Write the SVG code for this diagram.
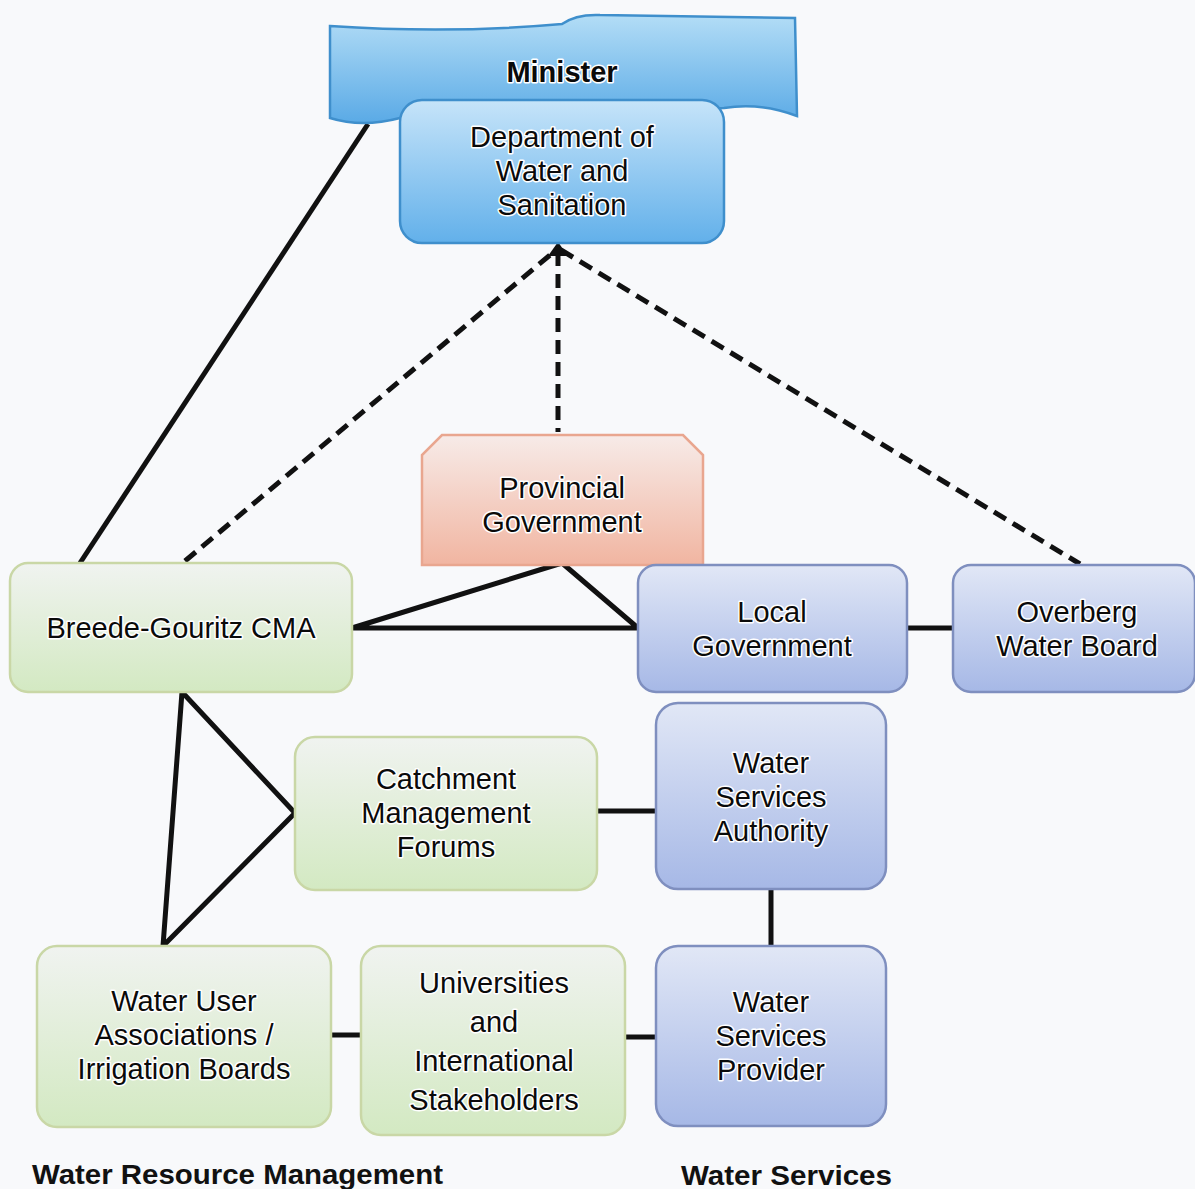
<svg xmlns="http://www.w3.org/2000/svg" width="1195" height="1189" viewBox="0 0 1195 1189">
<defs>
<linearGradient id="gBanner" x1="0" y1="0" x2="0" y2="1"><stop offset="0" stop-color="#b3ddf6"/><stop offset="1" stop-color="#5aaae6"/></linearGradient>
<linearGradient id="gDws" x1="0" y1="0" x2="0" y2="1"><stop offset="0" stop-color="#c6e4f9"/><stop offset="1" stop-color="#62b0ea"/></linearGradient>
<linearGradient id="gProv" x1="0" y1="0" x2="0" y2="1"><stop offset="0" stop-color="#f7ebe8"/><stop offset="1" stop-color="#f1b5a1"/></linearGradient>
<linearGradient id="gGreen" x1="0" y1="0" x2="0" y2="1"><stop offset="0" stop-color="#f0f3f0"/><stop offset="1" stop-color="#d3e9c2"/></linearGradient>
<linearGradient id="gBlue" x1="0" y1="0" x2="0" y2="1"><stop offset="0" stop-color="#e1e7f6"/><stop offset="1" stop-color="#a6b8e6"/></linearGradient>
</defs>
<style>
.t{font-family:"Liberation Sans",Arial,sans-serif;font-size:29px;fill:#0a0a0a;text-anchor:middle;stroke:#fff;stroke-width:3px;paint-order:stroke;stroke-linejoin:round}
.b{font-weight:bold}
.lbl{font-family:"Liberation Sans",Arial,sans-serif;font-size:28px;font-weight:bold;fill:#111}
.green{fill:url(#gGreen);stroke:#c9d7a6;stroke-width:2.5}
.blue{fill:url(#gBlue);stroke:#7f8fbf;stroke-width:2.5}
.ln{stroke:#111;stroke-width:5;fill:none;stroke-linejoin:round}
.dash{stroke:#111;stroke-width:5;fill:none;stroke-dasharray:14 8}
</style>
<rect width="1195" height="1189" fill="#f8f9fb"/>

<g id="connectors">
<line class="ln" x1="80" y1="563" x2="368" y2="124"/>
<line class="dash" x1="185" y1="561" x2="556" y2="250"/>
<line class="dash" x1="558" y1="252" x2="558" y2="432"/>
<line class="dash" x1="561" y1="250" x2="1080" y2="564"/>
<polygon points="558,242 548,256 568,256" fill="#111"/>
<polyline class="ln" points="352,628 638,628 562,563 352,628"/>
<line class="ln" x1="907" y1="628" x2="953" y2="628"/>
<polyline class="ln" points="182,692 295,813 163,946 182,692"/>
<line class="ln" x1="597" y1="811" x2="656" y2="811"/>
<line class="ln" x1="771" y1="889" x2="771" y2="946"/>
<line class="ln" x1="331" y1="1035" x2="361" y2="1035"/>
<line class="ln" x1="625" y1="1037" x2="656" y2="1037"/>
</g>

<g id="minister">
<path d="M330,26 Q450,34 562,24 Q576,14 600,15 L795,18 L797,116 Q760,102 724,108 L400,118 Q362,128 330,118 Z" fill="url(#gBanner)" stroke="#3f8fcc" stroke-width="2.5"/>
<text class="t b" x="562" y="82">Minister</text>
</g>

<g id="dws">
<rect x="400" y="100" width="324" height="143" rx="22" fill="url(#gDws)" stroke="#3f8fcc" stroke-width="2.5"/>
<text class="t" x="562" y="147">Department of</text>
<text class="t" x="562" y="181">Water and</text>
<text class="t" x="562" y="215">Sanitation</text>
</g>

<g id="provincial">
<path d="M442,435 L683,435 L703,455 L703,565 L422,565 L422,455 Z" fill="url(#gProv)" stroke="#e9a68f" stroke-width="2.5"/>
<text class="t" x="562" y="498">Provincial</text>
<text class="t" x="562" y="532">Government</text>
</g>

<g id="cma">
<rect class="green" x="10" y="563" width="342" height="129" rx="18"/>
<text class="t" x="181" y="638">Breede-Gouritz CMA</text>
</g>

<g id="local">
<rect class="blue" x="638" y="565" width="269" height="127" rx="18"/>
<text class="t" x="772" y="622">Local</text>
<text class="t" x="772" y="656">Government</text>
</g>

<g id="overberg">
<rect class="blue" x="953" y="565" width="242" height="127" rx="18"/>
<text class="t" x="1077" y="622">Overberg</text>
<text class="t" x="1077" y="656">Water Board</text>
</g>

<g id="cmf">
<rect class="green" x="295" y="737" width="302" height="153" rx="20"/>
<text class="t" x="446" y="789">Catchment</text>
<text class="t" x="446" y="823">Management</text>
<text class="t" x="446" y="857">Forums</text>
</g>

<g id="wsa">
<rect class="blue" x="656" y="703" width="230" height="186" rx="22"/>
<text class="t" x="771" y="773">Water</text>
<text class="t" x="771" y="807">Services</text>
<text class="t" x="771" y="841">Authority</text>
</g>

<g id="wua">
<rect class="green" x="37" y="946" width="294" height="181" rx="20"/>
<text class="t" x="184" y="1011">Water User</text>
<text class="t" x="184" y="1045">Associations /</text>
<text class="t" x="184" y="1079">Irrigation Boards</text>
</g>

<g id="universities">
<rect class="green" x="361" y="946" width="264" height="189" rx="20"/>
<text class="t" x="494" y="993">Universities</text>
<text class="t" x="494" y="1032">and</text>
<text class="t" x="494" y="1071">International</text>
<text class="t" x="494" y="1110">Stakeholders</text>
</g>

<g id="wsp">
<rect class="blue" x="656" y="946" width="230" height="180" rx="22"/>
<text class="t" x="771" y="1012">Water</text>
<text class="t" x="771" y="1046">Services</text>
<text class="t" x="771" y="1080">Provider</text>
</g>

<g id="labels">
<text class="lbl" x="32" y="1184" textLength="411" lengthAdjust="spacingAndGlyphs">Water Resource Management</text>
<text class="lbl" x="681" y="1185" textLength="211" lengthAdjust="spacingAndGlyphs">Water Services</text>
</g>
</svg>
